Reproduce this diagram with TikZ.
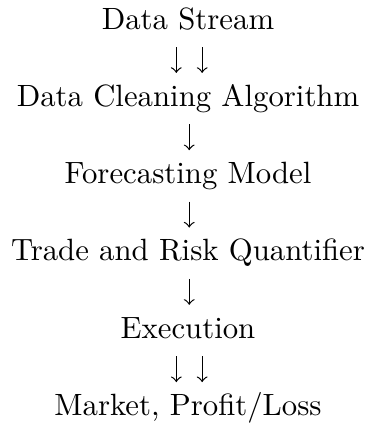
\documentclass[tikz,border=0pt]{standalone}
\usetikzlibrary{positioning}
\tikzset{
  stage/.style={anchor=base, text height=7pt, text depth=2pt, inner xsep=0pt, inner ysep=3.65pt},
  flow/.style={->, line width=0.4pt}
}
\begin{document}
\begin{tikzpicture}[x=0.325pt, y=-0.325pt]
                    % pixel grid of the page, y downwards
                    \useasboundingbox (0,0) rectangle (369,423);
                    \node (ds)    at (188,29)    [stage] {Data Stream};
                    \node (clean) at (188,106.3) [stage] {Data Cleaning Algorithm};
                    \node (fcast) at (188,183.6) [stage] {Forecasting Model};
                    \node (trq)   at (188,260.9) [stage] {Trade and Risk Quantifier};
                    \node (exec)  at (188,338.2) [stage] {Execution};
                    \node (mkt)   at (188,415.5) [stage] {Market, Profit/Loss};

                    \draw[flow] ([xshift=-3.8pt]ds.south) -- ([xshift=-3.8pt]clean.north);
                    \draw[flow] ([xshift=4.6pt]ds.south) -- ([xshift=4.6pt]clean.north);
                    \draw[flow] ([xshift=0.4pt]clean.south) -- ([xshift=0.4pt]fcast.north);
                    \draw[flow] ([xshift=0.4pt]fcast.south) -- ([xshift=0.4pt]trq.north);
                    \draw[flow] ([xshift=0.4pt]trq.south) -- ([xshift=0.4pt]exec.north);
                    \draw[flow] ([xshift=-3.8pt]exec.south) -- ([xshift=-3.8pt]mkt.north);
                    \draw[flow] ([xshift=4.6pt]exec.south) -- ([xshift=4.6pt]mkt.north);
\end{tikzpicture}
\end{document}
